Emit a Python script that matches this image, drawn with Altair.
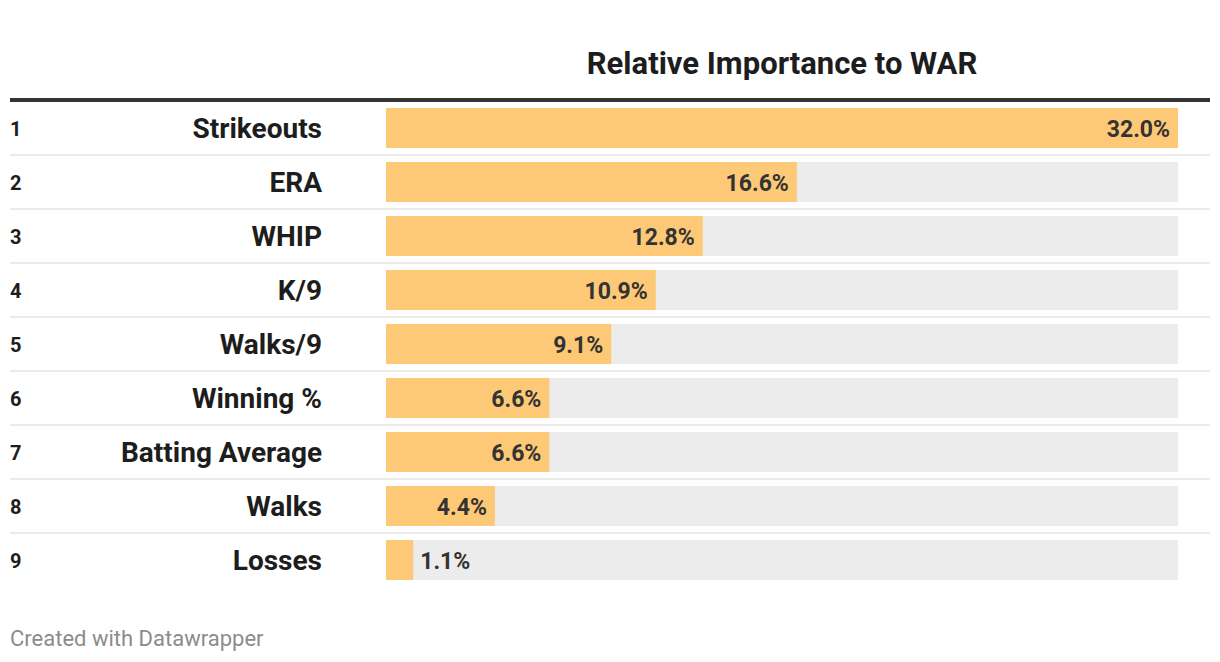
import altair as alt
import pandas as pd

ranks = [1, 2, 3, 4, 5, 6, 7, 8, 9]
metrics = ["Strikeouts", "ERA", "WHIP", "K/9", "Walks/9", "Winning %",
           "Batting Average", "Walks", "Losses"]
values = [32.0, 16.6, 12.8, 10.9, 9.1, 6.6, 6.6, 4.4, 1.1]
title_text = ["Relative Importance to WAR"]
footer_text = ["Created with Datawrapper"]

df = pd.DataFrame({"rank": ranks, "metric": metrics, "value": values})
df["full"] = max(values)
df["label"] = [f"{v:.1f}%" for v in values]

FONT = "Roboto"
BAR = "#fdc977"
BG = "#ececec"

xscale = alt.Scale(domain=[0, max(values)], range=[378, 1170], nice=False, zero=True)
yscale = alt.Scale(domain=metrics, range=[93, 579], paddingInner=14 / 54, paddingOuter=7 / 54)
Y = alt.Y("metric:N", sort=metrics, scale=yscale, axis=None)

base = alt.Chart(df)

bg = base.mark_bar(color=BG).encode(
    x=alt.X("value:Q", scale=xscale, axis=None),
    x2=alt.datum(0),
    y=Y,
).transform_calculate(value="datum.full")

bars = base.mark_bar(color=BAR).encode(
    x=alt.X("value:Q", scale=xscale, axis=None),
    x2=alt.datum(0),
    y=Y,
)

seps = base.transform_filter("datum.rank < 9").mark_rule(
    color="#ebebeb", strokeWidth=2, yOffset=27
).encode(
    y=Y,
    x=alt.value(2),
    x2=alt.value(1202),
)

inside = base.transform_filter("datum.value >= 3").mark_text(
    align="right", baseline="middle", dx=-8, dy=2, font=FONT, fontSize=23,
    fontWeight="bold", color="#333333"
).encode(
    x=alt.X("value:Q", scale=xscale, axis=None),
    y=Y,
    text="label:N",
)

outside = base.transform_filter("datum.value < 3").mark_text(
    align="left", baseline="middle", dx=7, dy=2, font=FONT, fontSize=23,
    fontWeight="bold", color="#333333"
).encode(
    x=alt.X("value:Q", scale=xscale, axis=None),
    y=Y,
    text="label:N",
)

rank_txt = base.mark_text(
    align="left", baseline="middle", dy=2, font=FONT, fontSize=20,
    fontWeight="bold", color="#1d1d1d"
).encode(
    x=alt.value(2),
    y=Y,
    text="rank:N",
)

name_txt = base.mark_text(
    align="right", baseline="middle", dy=2, font=FONT, fontSize=28,
    fontWeight="bold", color="#1d1d1d"
).encode(
    x=alt.value(314),
    y=Y,
    text="metric:N",
)

title = alt.Chart(pd.DataFrame({"t": title_text})).mark_text(
    align="center", baseline="alphabetic", font=FONT, fontSize=31,
    fontWeight="bold", color="#1d1d1d"
).encode(x=alt.value(774), y=alt.value(66), text="t:N")

topline = alt.Chart(pd.DataFrame({"t": title_text})).mark_rule(
    color="#333333", strokeWidth=4
).encode(x=alt.value(2), x2=alt.value(1202), y=alt.value(92))

footer = alt.Chart(pd.DataFrame({"t": footer_text})).mark_text(
    align="left", baseline="alphabetic", font=FONT, fontSize=22,
    color="#8c8c8c"
).encode(x=alt.value(2), y=alt.value(638), text="t:N")

chart = alt.layer(
    bg, bars, seps, inside, outside, rank_txt, name_txt, title, topline, footer
).properties(
    width=1204, height=646,
    autosize=alt.AutoSizeParams(type="none"),
    padding=0,
).configure_view(stroke=None)

chart.save("out.html", embed_options={"renderer": "svg", "actions": False})
